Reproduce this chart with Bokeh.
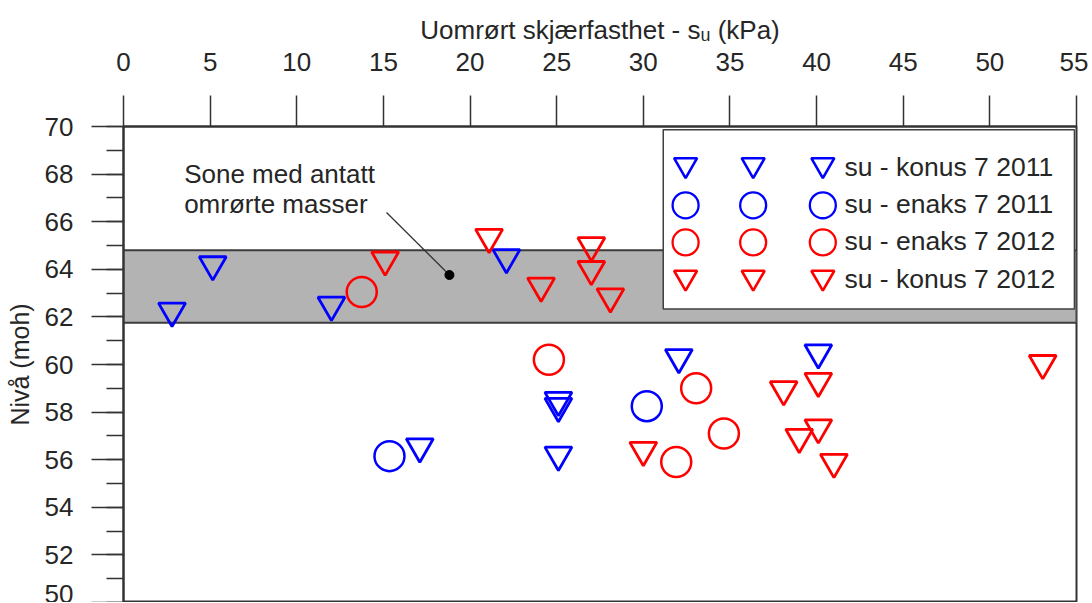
from bokeh.plotting import figure
from bokeh.models import Range1d, SingleIntervalTicker
from bokeh.embed import file_html
from bokeh.resources import INLINE
from bokeh.core.properties import value

# ---------------- data ----------------
konus_2011_x = [2.8, 5.15, 12.0, 22.1, 32.05, 40.1, 25.1, 25.1, 25.1, 17.1]
konus_2011_y = [62.25, 64.2, 62.5, 64.5, 60.3, 60.5, 58.5, 58.25, 56.2, 56.55]

enaks_2011_x = [15.35, 30.2]
enaks_2011_y = [56.15, 58.25]

enaks_2012_x = [13.75, 24.55, 33.05, 34.65, 31.9]
enaks_2012_y = [63.05, 60.2, 59.0, 57.1, 55.9]

konus_2012_x = [15.1, 21.1, 24.1, 27.0, 27.0, 28.1, 30.0, 38.1, 40.1, 39.0, 40.1, 41.0, 53.05]
konus_2012_y = [64.4, 65.35, 63.3, 65.0, 64.0, 62.85, 56.4, 58.95, 59.3, 56.95, 57.35, 55.9, 60.05]

zone_bottom = 61.75
zone_top = 64.8

series_labels = ["su - konus 7 2011", "su - enaks 7 2011", "su - enaks 7 2012", "su - konus 7 2012"]
x_title = "Uomrørt skjærfasthet - sᵤ (kPa)"
y_title = "Nivå (moh)"
note_lines = ["Sone med antatt", "omrørte masser"]

# ---------------- styling ----------------
BLUE = "#0000ff"
RED = "#ff0000"
DARK = "#262626"
AXC = "#333333"
FONT = "Liberation Sans"

X0, X1 = 0, 55
Y0, Y1 = 50, 70

p = figure(frame_width=953, frame_height=476,
           x_range=Range1d(X0, X1), y_range=Range1d(Y0, Y1),
           x_axis_location="above",
           output_backend="svg", toolbar_location=None,
           min_border_left=123, min_border_top=126, min_border_right=12, min_border_bottom=0)
p.background_fill_color = "white"
p.border_fill_color = "white"
p.outline_line_color = AXC
p.outline_line_width = 2
p.xgrid.visible = False
p.ygrid.visible = False

xa = p.xaxis[0]
xa.ticker = SingleIntervalTicker(interval=5, num_minor_ticks=0)
xa.major_tick_out = 31
xa.major_tick_in = 0
xa.minor_tick_out = 0
xa.minor_tick_in = 0
xa.major_tick_line_color = AXC
xa.major_tick_line_width = 1.5
xa.axis_line_color = AXC
xa.axis_line_width = 2
xa.major_label_text_font = FONT
xa.major_label_text_font_size = "26px"
xa.major_label_text_color = DARK
xa.major_label_standoff = 25
xa.axis_label = x_title
xa.axis_label_text_font = FONT
xa.axis_label_text_font_size = "26px"
xa.axis_label_text_font_style = "normal"
xa.axis_label_text_color = DARK
xa.axis_label_standoff = 5

ya = p.yaxis[0]
ya.ticker = SingleIntervalTicker(interval=2, num_minor_ticks=2)
ya.major_tick_out = 32
ya.major_tick_in = 0
ya.minor_tick_out = 17
ya.minor_tick_in = 0
ya.major_tick_line_color = AXC
ya.minor_tick_line_color = AXC
ya.major_tick_line_width = 1.5
ya.minor_tick_line_width = 1.5
ya.axis_line_color = AXC
ya.axis_line_width = 2
ya.major_label_text_font = FONT
ya.major_label_text_font_size = "26px"
ya.major_label_text_color = DARK
ya.major_label_standoff = 18
ya.axis_label = y_title
ya.axis_label_text_font = FONT
ya.axis_label_text_font_size = "25px"
ya.axis_label_text_font_style = "normal"
ya.axis_label_text_color = DARK
ya.axis_label_standoff = 8

# zone band
p.quad(left=[X0], right=[X1], bottom=[zone_bottom], top=[zone_top],
       fill_color="#b3b3b3", line_color="#3c3c3c", line_width=2)

# data
TRI_SIZE, TRI_LW = 27, 2.8
CIR_SIZE, CIR_LW = 30, 2.5
p.scatter(konus_2011_x, konus_2011_y, marker="inverted_triangle", size=TRI_SIZE,
          fill_alpha=0, line_color=BLUE, line_width=TRI_LW)
p.scatter(enaks_2011_x, enaks_2011_y, marker="circle", size=CIR_SIZE,
          fill_alpha=0, line_color=BLUE, line_width=CIR_LW)
p.scatter(enaks_2012_x, enaks_2012_y, marker="circle", size=CIR_SIZE,
          fill_alpha=0, line_color=RED, line_width=CIR_LW)
p.scatter(konus_2012_x, konus_2012_y, marker="inverted_triangle", size=TRI_SIZE,
          fill_alpha=0, line_color=RED, line_width=TRI_LW)

# annotation
p.text(x=[3.5], y=[68.0], text=[note_lines[0]], text_font=value(FONT),
       text_font_size="26px", text_color=DARK, text_baseline="alphabetic", text_align="left")
p.text(x=[3.5], y=[66.74], text=[note_lines[1]], text_font=value(FONT),
       text_font_size="26px", text_color=DARK, text_baseline="alphabetic", text_align="left")
p.line(x=[15.18, 18.81], y=[66.39, 63.76], line_color="#333333", line_width=1.3)
p.scatter(x=[18.81], y=[63.76], size=9, color="black", marker="circle")

# legend (drawn manually: three sample symbols per entry)
p.quad(left=[31.15], right=[54.88], top=[69.86], bottom=[62.33],
       fill_color="white", line_color="#404040", line_width=1.5)
leg_cols = [32.44, 36.34, 40.36]
leg_rows = [68.39, 66.69, 65.13, 63.66]
leg_text_rows = [68.28, 66.75, 65.2, 63.59]
leg_styles = [("inverted_triangle", BLUE, 23, 2.6),
              ("circle", BLUE, 26, 2.3),
              ("circle", RED, 26, 2.3),
              ("inverted_triangle", RED, 23, 2.6)]
for (mk, col, sz, lw), ry in zip(leg_styles, leg_rows):
    p.scatter(x=leg_cols, y=[ry] * 3, marker=mk, size=sz, fill_alpha=0,
              line_color=col, line_width=lw)
p.text(x=[41.61] * 4, y=leg_text_rows, text=series_labels, text_font=value(FONT),
       text_font_size="26.5px", text_color=DARK, text_baseline="middle", text_align="left")

open("out.html", "w").write(file_html(p, INLINE))
